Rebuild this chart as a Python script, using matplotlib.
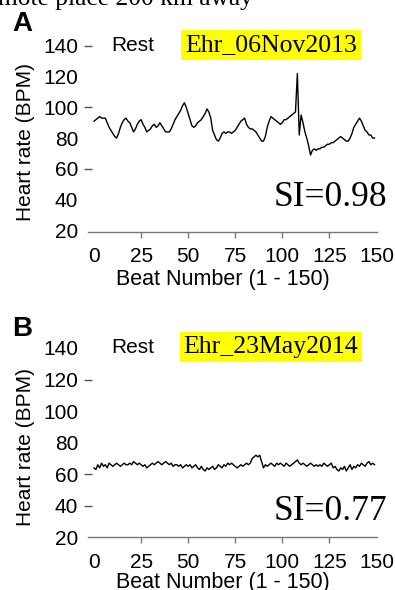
import matplotlib
matplotlib.use('Agg')
import matplotlib.pyplot as plt
import numpy as np

plt.rcParams['font.family'] = ['Liberation Sans', 'DejaVu Sans']

# heart rate per beat (BPM)
beats = np.arange(150)
hr_nov2013 = [
    91, 92, 93, 94, 93, 93, 93, 90, 87, 85,
    83, 81, 80, 83, 87, 90, 92, 93, 91, 90,
    87, 84, 86, 89, 91, 92, 89, 87, 84, 85,
    86, 88, 89, 87, 88, 90, 88, 86, 84, 84,
    84, 86, 89, 92, 94, 96, 98, 101, 103, 100,
    96, 92, 88, 87, 88, 90, 91, 92, 94, 96,
    99, 97, 93, 85, 82, 79, 78, 80, 83, 84,
    83, 84, 84, 83, 84, 85, 87, 89, 91, 92,
    93, 89, 87, 86, 86, 85, 84, 82, 80, 78,
    78, 81, 87, 91, 94, 93, 92, 91, 90, 89,
    90, 92, 92, 93, 94, 95, 96, 97, 122, 82,
    95, 90, 84, 80, 75, 69, 72, 73, 72, 73,
    73, 74, 74, 75, 76, 76, 77, 77, 78, 79,
    80, 81, 80, 79, 78, 78, 80, 83, 87, 89,
    91, 93, 91, 88, 85, 84, 82, 82, 80, 80,
]
hr_may2014 = [
    64, 63, 66, 64, 67, 65, 66, 64, 67, 66,
    65, 66, 67, 66, 65, 66, 67, 66, 66, 67,
    66, 68, 67, 66, 67, 66, 65, 66, 64, 65,
    66, 67, 66, 67, 68, 67, 66, 67, 68, 67,
    66, 67, 65, 66, 66, 65, 66, 64, 65, 66,
    65, 66, 64, 65, 66, 64, 63, 65, 63, 62,
    64, 63, 64, 65, 63, 64, 66, 65, 64, 66,
    65, 67, 66, 67, 66, 65, 64, 65, 66, 65,
    66, 67, 66, 67, 70, 71, 72, 71, 72, 68,
    64, 66, 65, 66, 67, 66, 65, 67, 66, 67,
    66, 65, 67, 66, 65, 66, 67, 68, 69, 67,
    66, 67, 66, 65, 66, 67, 66, 65, 66, 65,
    66, 65, 67, 66, 65, 66, 67, 64, 65, 63,
    62, 64, 63, 65, 62, 64, 66, 63, 65, 64,
    66, 65, 67, 66, 65, 67, 68, 66, 67, 66,
]

xticks = [0, 25, 50, 75, 100, 125, 150]
yticks = [20, 40, 60, 80, 100, 120, 140]

panels = [
    dict(letter='A', hr=hr_nov2013, tag='Ehr_06Nov2013', si='SI=0.98',
         dashes=[60, 100, 140], pos=[88/395, 1-231.7/590, 289/395, 193.4/590],
         ylim=(19, 145), si_y=41.5, ylab_y=0.464, xlab_y=-0.245, fy=0.960),
    dict(letter='B', hr=hr_may2014, tag='Ehr_23May2014', si='SI=0.77',
         dashes=[40, 60, 120], pos=[88/395, 1-537.3/590, 289/395, 197.2/590],
         ylim=(20, 145), si_y=36.5, ylab_y=0.458, xlab_y=-0.227, fy=0.442),
]

fig = plt.figure(figsize=(3.95, 5.9), dpi=100)

# cropped caption line from the page above the figure
fig.text(253/395, 1-5/590, 'remote place 200 km away', ha='right', va='baseline',
         fontsize=18.4, family='Liberation Serif')

for p in panels:
    ax = fig.add_axes(p['pos'])
    ax.plot(beats, p['hr'], color='black', lw=1.0)
    ax.set_xlim(-3.2, 150.3)
    ax.set_ylim(*p['ylim'])

    for s in ['top', 'right', 'left']:
        ax.spines[s].set_visible(False)
    ax.spines['bottom'].set_color('#777777')
    ax.spines['bottom'].set_linewidth(1.0)

    # minor ticks sit on the major positions, keep them
    ax.xaxis.remove_overlapping_locs = False
    ax.yaxis.remove_overlapping_locs = False
    ax.set_xticks(xticks)
    ax.set_xticks(xticks[1:-1], minor=True)
    ax.set_yticks(yticks)
    ax.set_yticks(p['dashes'], minor=True)
    ax.tick_params(axis='both', which='major', length=0, labelsize=15)
    ax.tick_params(axis='x', which='major', pad=11)
    ax.tick_params(axis='y', which='major', pad=7)
    ax.tick_params(axis='x', which='minor', length=4, width=1, color='#777777',
                   direction='out')
    ax.tick_params(axis='y', which='minor', length=6, width=1, color='#555555',
                   direction='inout')

    ax.set_xlabel('Beat Number (1 - 150)', fontsize=15.5, va='center')
    ax.xaxis.set_label_coords(0.467, p['xlab_y'])
    ax.set_ylabel('Heart rate (BPM)', fontsize=15, va='center')
    ax.yaxis.set_label_coords(-0.215, p['ylab_y'])

    ax.text(20.5, 140, 'Rest', fontsize=15, ha='center', va='center')
    ax.text(94, 140.5, p['tag'], fontsize=18.5, family='Liberation Serif',
            ha='center', va='center',
            bbox=dict(boxstyle='square,pad=0.15', facecolor='#ffff00',
                      edgecolor='none'))
    ax.text(156, p['si_y'], p['si'], fontsize=25.5, family='Liberation Serif',
            ha='right', va='center')

    fig.text(22.5/395, p['fy'], p['letter'], fontsize=20, fontweight='bold',
             ha='center', va='center')

fig.savefig('out.png', dpi=100)
